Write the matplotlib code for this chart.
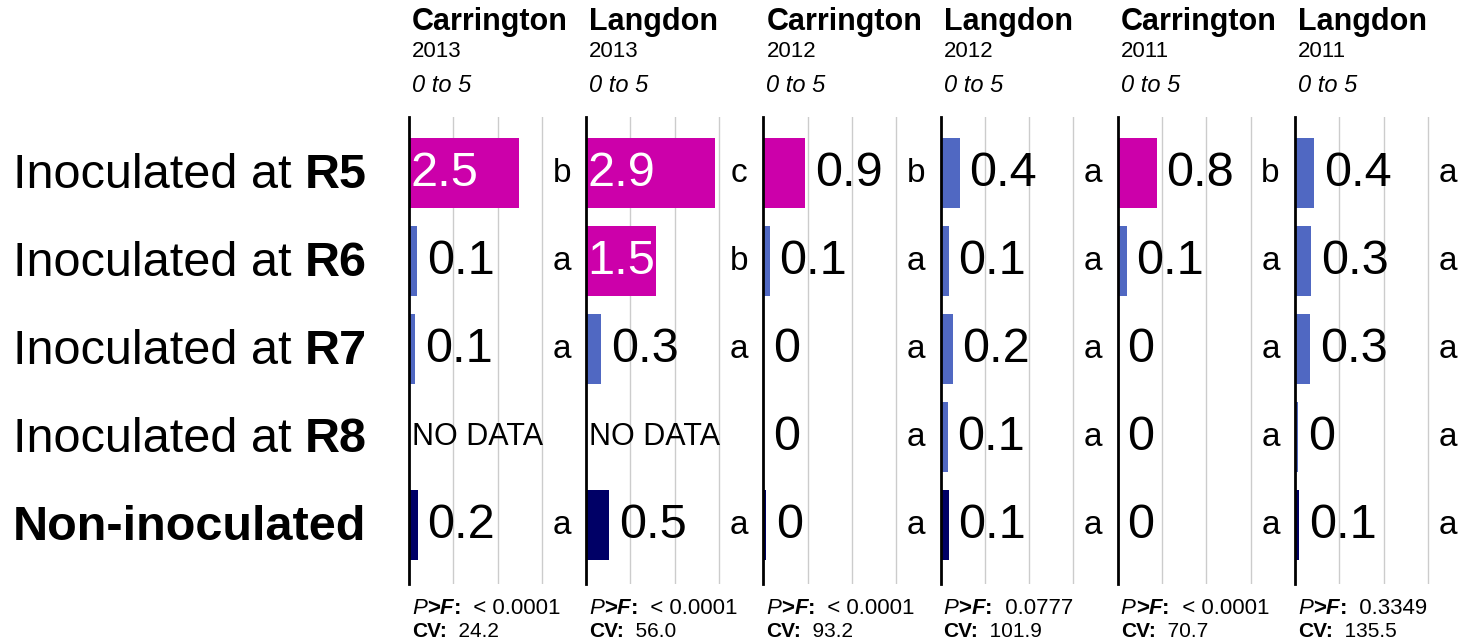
import numpy as np
import matplotlib.pyplot as plt
from matplotlib.transforms import blended_transform_factory

plt.rcParams['font.family'] = ['Liberation Sans', 'DejaVu Sans']

# Данные
row_prefix = ['Inoculated at ', 'Inoculated at ', 'Inoculated at ', 'Inoculated at ', '']
row_bold = ['R5', 'R6', 'R7', 'R8', 'Non-inoculated']
locations = ['Carrington', 'Langdon', 'Carrington', 'Langdon', 'Carrington', 'Langdon']
years = ['2013', '2013', '2012', '2012', '2011', '2011']
scale_note = '0 to 5'

# длина столбиков (оценка по картинке), nan = нет данных
bar_values = [
    [2.48, 0.18, 0.14, np.nan, 0.20],
    [2.90, 1.58, 0.34, np.nan, 0.52],
    [0.95, 0.14, 0.00, 0.00, 0.07],
    [0.43, 0.18, 0.27, 0.16, 0.18],
    [0.88, 0.20, 0.00, 0.00, 0.00],
    [0.43, 0.36, 0.34, 0.07, 0.10],
]
value_labels = [
    ['2.5', '0.1', '0.1', 'NO DATA', '0.2'],
    ['2.9', '1.5', '0.3', 'NO DATA', '0.5'],
    ['0.9', '0.1', '0', '0', '0'],
    ['0.4', '0.1', '0.2', '0.1', '0.1'],
    ['0.8', '0.1', '0', '0', '0'],
    ['0.4', '0.3', '0.3', '0', '0.1'],
]
letters = [
    ['b', 'a', 'a', '', 'a'],
    ['c', 'b', 'a', '', 'a'],
    ['b', 'a', 'a', 'a', 'a'],
    ['a', 'a', 'a', 'a', 'a'],
    ['b', 'a', 'a', 'a', 'a'],
    ['a', 'a', 'a', 'a', 'a'],
]
p_values = ['< 0.0001', '< 0.0001', '< 0.0001', '0.0777', '< 0.0001', '0.3349']
cv_values = ['24.2', '56.0', '93.2', '101.9', '70.7', '135.5']

MAGENTA = '#CC00AA'
BLUE = '#5068C2'
NAVY = '#000066'
GRID = '#CCCCCC'

W, H = 1464, 643
fig = plt.figure(figsize=(W / 100, H / 100), dpi=100)

n_rows = len(row_bold)
y = np.arange(n_rows)
ax_bottom = 1 - 584 / H
ax_height = (584 - 117) / H
ax_w = 177 / W

axes = []
for i in range(len(locations)):
    left = (409 + i * 177.2) / W
    ax = fig.add_axes([left, ax_bottom, ax_w, ax_height])
    axes.append(ax)
    vals = np.array(bar_values[i])
    ctrl = letters[i][-1]
    colors = []
    for j in range(n_rows):
        if j == n_rows - 1:
            colors.append(NAVY)
        elif letters[i][j] != ctrl:
            colors.append(MAGENTA)
        else:
            colors.append(BLUE)
    ax.barh(y, np.nan_to_num(vals), height=0.8, color=colors, zorder=2)

    for j in range(n_rows):
        lab = value_labels[i][j]
        v = vals[j]
        if np.isnan(v):
            ax.annotate(lab, (0, j), xytext=(2, 0), textcoords='offset points',
                        ha='left', va='center', fontsize=22, zorder=3)
        elif v > 1.2:
            ax.annotate(lab, (0, j), xytext=(1, 0), textcoords='offset points',
                        ha='left', va='center', fontsize=35, color='white', zorder=3)
        else:
            ax.annotate(lab, (v, j), xytext=(7, 0), textcoords='offset points',
                        ha='left', va='center', fontsize=35, color='black', zorder=3)
        if letters[i][j]:
            ax.text(3.45, j, letters[i][j], ha='center', va='center', fontsize=24, zorder=3)

    ax.set_xlim(0, 4)
    ax.set_ylim(n_rows - 1 + 0.67, -0.64)
    for g in [1, 2, 3]:
        ax.axvline(g, color=GRID, lw=1, zorder=1)
    for s in ['top', 'right', 'bottom']:
        ax.spines[s].set_visible(False)
    ax.spines['left'].set_linewidth(2)
    ax.set_xticks([])
    ax.set_yticks([])
    ax.patch.set_alpha(0)

    # Заголовки панелей
    x0 = left + 3 / W
    fig.text(x0, 1 - 30 / H, locations[i], fontsize=22, fontweight='bold', va='baseline')
    fig.text(x0, 1 - 57 / H, years[i], fontsize=16, va='baseline')
    fig.text(x0, 1 - 92 / H, scale_note, fontsize=17, style='italic', va='baseline')

    # Статистика снизу
    t = fig.text(x0, 1 - 614 / H, 'P', fontsize=16, style='italic', va='baseline')
    t = ax.annotate('>', xy=(1, 0), xycoords=t, va='bottom', ha='left',
                    fontsize=16, fontweight='bold', annotation_clip=False)
    t = ax.annotate('F', xy=(1, 0), xycoords=t, va='bottom', ha='left',
                    fontsize=16, fontweight='bold', style='italic', annotation_clip=False)
    t = ax.annotate(':', xy=(1, 0), xycoords=t, va='bottom', ha='left',
                    fontsize=16, fontweight='bold', annotation_clip=False)
    t = ax.annotate('  ' + p_values[i], xy=(1, 0), xycoords=t, va='bottom', ha='left',
                    fontsize=16, annotation_clip=False)
    t = fig.text(x0, 1 - 637 / H, 'CV:', fontsize=15, fontweight='bold', va='baseline')
    ax.annotate('  ' + cv_values[i], xy=(1, 0), xycoords=t, va='bottom', ha='left',
                fontsize=15, annotation_clip=False)

# Подписи строк слева
tr = blended_transform_factory(fig.transFigure, axes[0].transData)
for j in range(n_rows):
    if row_prefix[j]:
        t = axes[0].text(13 / W, j + 0.03, row_prefix[j], transform=tr, fontsize=35,
                         ha='left', va='center', clip_on=False)
        axes[0].annotate(row_bold[j], xy=(1, 0), xycoords=t, va='bottom', ha='left',
                         fontsize=35, fontweight='bold', annotation_clip=False)
    else:
        axes[0].text(13 / W, j + 0.03, row_bold[j], transform=tr, fontsize=35,
                     fontweight='bold', ha='left', va='center', clip_on=False)

fig.savefig('out.png', dpi=100)
